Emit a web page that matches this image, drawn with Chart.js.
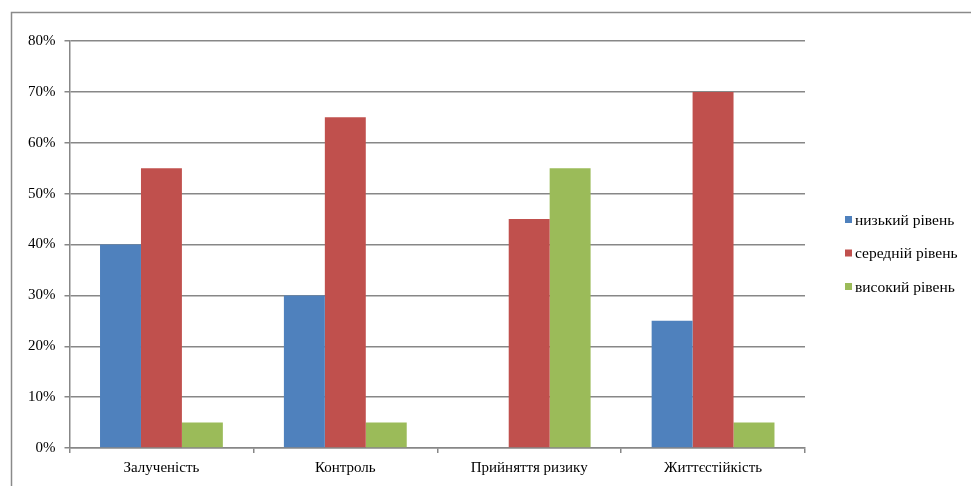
<!DOCTYPE html>
<html>
<head>
<meta charset="utf-8">
<script src="https://cdn.jsdelivr.net/npm/chart.js@4/dist/chart.umd.min.js"></script>
<style>
  html, body { margin: 0; padding: 0; background: #fff; }
  #wrap { width: 971px; height: 486px; position: relative; }
</style>
</head>
<body>
<div id="wrap"><canvas id="c" width="971" height="486"></canvas></div>
<script>
// Categories and levels
const categories = ['Залученість', 'Контроль', 'Прийняття ризику', 'Життєстійкість'];
const seriesNames = ['низький рівень', 'середній рівень', 'високий рівень'];
const lowLevel = [40, 30, 0, 25];
const midLevel = [55, 65, 45, 70];
const highLevel = [5, 5, 55, 5];
const yTicks = [0, 10, 20, 30, 40, 50, 60, 70, 80];

const colors = ['#4F81BD', '#C0504D', '#9BBB59'];
const gridGray = '#878787';
const fontFamily = '"Liberation Serif", "Times New Roman", serif';

// Outer frame of the chart
const framePlugin = {
  id: 'frame',
  beforeDraw(chart) {
    const ctx = chart.ctx;
    ctx.save();
    ctx.strokeStyle = '#8a8a8a';
    ctx.lineWidth = 1.5;
    ctx.beginPath();
    ctx.moveTo(11.5, 490);
    ctx.lineTo(11.5, 12.5);
    ctx.lineTo(975, 12.5);
    ctx.stroke();
    ctx.restore();
  }
};

// Legend on the right, drawn from dataset labels and colours
const sideLegend = {
  id: 'sideLegend',
  afterDraw(chart) {
    const ctx = chart.ctx;
    ctx.save();
    ctx.font = '15.5px ' + fontFamily;
    ctx.textBaseline = 'middle';
    ctx.textAlign = 'left';
    chart.data.datasets.forEach((ds, i) => {
      const cy = 219.5 + i * 33.5;
      ctx.fillStyle = ds.backgroundColor;
      ctx.fillRect(845, cy - 3.5, 7, 7);
      ctx.fillStyle = '#000';
      ctx.fillText(ds.label, 855, cy + 1);
    });
    ctx.restore();
  }
};

const seriesValues = [lowLevel, midLevel, highLevel];

new Chart(document.getElementById('c'), {
  type: 'bar',
  data: {
    labels: categories,
    datasets: seriesNames.map((name, i) => ({
      label: name,
      data: seriesValues[i],
      backgroundColor: colors[i],
      borderWidth: 0,
      categoryPercentage: 0.668,
      barPercentage: 1.0
    }))
  },
  options: {
    responsive: false,
    animation: false,
    devicePixelRatio: 1,
    layout: { padding: { left: 12, top: 41, right: 166, bottom: 0 } },
    plugins: {
      legend: { display: false },
      tooltip: { enabled: false }
    },
    scales: {
      x: {
        grid: {
          drawOnChartArea: false,
          drawTicks: true,
          tickLength: 5,
          color: gridGray,
          lineWidth: 1.5
        },
        border: { color: gridGray, width: 1.5 },
        ticks: {
          color: '#000',
          font: { family: fontFamily, size: 15 },
          padding: 6,
          maxRotation: 0
        },
        afterFit(scale) { scale.height = 38; }
      },
      y: {
        min: 0,
        max: 80,
        afterBuildTicks(scale) { scale.ticks = yTicks.map(v => ({ value: v })); },
        grid: {
          color: gridGray,
          lineWidth: 1.5,
          drawTicks: true,
          tickLength: 5
        },
        border: { color: gridGray, width: 1.5 },
        ticks: {
          color: '#000',
          font: { family: fontFamily, size: 15 },
          padding: 9,
          callback: v => v + '%'
        },
        afterFit(scale) { scale.width = 57.5; }
      }
    }
  },
  plugins: [framePlugin, sideLegend]
});
</script>
</body>
</html>
